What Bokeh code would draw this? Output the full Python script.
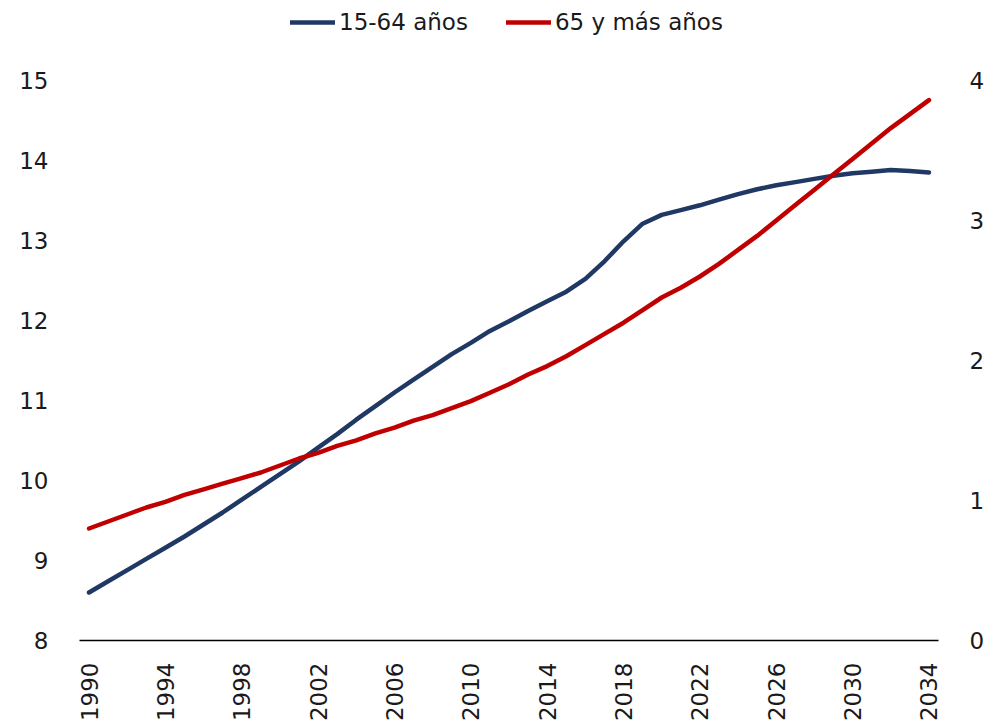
from bokeh.plotting import figure
from bokeh.layouts import column
from bokeh.models import Range1d, LinearAxis, FixedTicker, Legend, LegendItem
from bokeh.embed import file_html
from bokeh.resources import INLINE
import math

# Population by age group, 1990-2034
years = list(range(1990, 2035))

# 15-64 years (left axis)
age_15_64 = [
    8.60, 8.74, 8.88, 9.02, 9.16, 9.30, 9.45, 9.60, 9.76, 9.92,
    10.08, 10.24, 10.41, 10.58, 10.76, 10.93, 11.10, 11.26, 11.42, 11.58,
    11.72, 11.87, 11.99, 12.12, 12.24, 12.36, 12.52, 12.74, 12.99, 13.21,
    13.32, 13.38, 13.44, 13.51, 13.58, 13.64, 13.69, 13.73, 13.77, 13.81,
    13.84, 13.86, 13.88, 13.87, 13.85,
]

# 65 years and over (right axis)
age_65_plus = [
    0.80, 0.85, 0.90, 0.95, 0.99, 1.04, 1.08, 1.12, 1.16, 1.20,
    1.25, 1.30, 1.34, 1.39, 1.43, 1.48, 1.52, 1.57, 1.61, 1.66,
    1.71, 1.77, 1.83, 1.90, 1.96, 2.03, 2.11, 2.19, 2.27, 2.36,
    2.45, 2.52, 2.60, 2.69, 2.79, 2.89, 3.00, 3.11, 3.22, 3.33,
    3.44, 3.55, 3.66, 3.76, 3.86,
]

x_ticks = list(range(1990, 2035, 4))
left_ticks = [8, 9, 10, 11, 12, 13, 14, 15]
right_ticks = [0, 1, 2, 3, 4]

series_labels = ["15-64 años", "65 y más años"]
BLUE = "#203864"
RED = "#C00000"
FONT = "DejaVu Sans"
TEXT = "#1a1a1a"
FS = "23px"
LW = 4.5

# ---- main chart ----
p = figure(
    width=997, height=680,
    x_range=Range1d(1989.5, 2034.5),
    y_range=Range1d(8, 15),
    output_backend="svg", toolbar_location=None,
    min_border_left=79, min_border_right=59,
    min_border_top=36, min_border_bottom=84,
    y_axis_location=None,
)
p.extra_y_ranges = {"right": Range1d(0, 4)}
p.outline_line_color = None
p.xgrid.grid_line_color = None
p.ygrid.grid_line_color = None
p.background_fill_color = "white"
p.border_fill_color = "white"

# bottom axis
xa = p.xaxis[0]
xa.ticker = FixedTicker(ticks=x_ticks)
xa.major_label_orientation = math.pi / 2
xa.major_tick_line_color = None
xa.major_tick_out = 0
xa.major_tick_in = 0
xa.minor_tick_line_color = None
xa.minor_tick_out = 0
xa.axis_line_color = "#000000"
xa.axis_line_width = 1.3
xa.major_label_standoff = 22
xa.major_label_text_font = FONT
xa.major_label_text_font_size = FS
xa.major_label_text_color = TEXT


def style_y(ax, ticks):
    ax.ticker = FixedTicker(ticks=ticks)
    ax.axis_line_color = None
    ax.major_tick_line_color = None
    ax.major_tick_out = 0
    ax.major_tick_in = 0
    ax.minor_tick_line_color = None
    ax.minor_tick_out = 0
    ax.major_label_standoff = 31
    ax.major_label_text_font = FONT
    ax.major_label_text_font_size = FS
    ax.major_label_text_color = TEXT


left_axis = LinearAxis()
style_y(left_axis, left_ticks)
p.add_layout(left_axis, "left")

right_axis = LinearAxis(y_range_name="right")
style_y(right_axis, right_ticks)
p.add_layout(right_axis, "right")

p.line(years, age_15_64, line_color=BLUE, line_width=LW,
       line_cap="round", line_join="round")
p.line(years, age_65_plus, line_color=RED, line_width=LW,
       line_cap="round", line_join="round", y_range_name="right")

# ---- legend strip above the chart ----
lg = figure(
    width=997, height=44,
    x_range=Range1d(0, 1), y_range=Range1d(0, 1),
    output_backend="svg", toolbar_location=None,
    min_border=0, x_axis_location=None, y_axis_location=None,
)
lg.outline_line_color = None
lg.xgrid.grid_line_color = None
lg.ygrid.grid_line_color = None

# key renderers sit outside the visible range; only their legend swatches show
k_blue = lg.line([-2, -1], [-2, -1], line_color=BLUE, line_width=LW,
                 line_cap="round")
k_red = lg.line([-2, -1], [-2, -1], line_color=RED, line_width=LW,
                line_cap="round")

legend = Legend(
    items=[LegendItem(label=series_labels[0], renderers=[k_blue]),
           LegendItem(label=series_labels[1], renderers=[k_red])],
    orientation="horizontal",
    location=(211, 9),
    border_line_color=None,
    background_fill_alpha=0,
    padding=0, margin=0,
    spacing=38,
    glyph_width=45, glyph_height=26,
    label_height=26, label_standoff=4,
    label_text_font=FONT, label_text_font_size=FS,
    label_text_color=TEXT,
)
lg.add_layout(legend, "center")

layout = column(lg, p, spacing=0)

open("out.html", "w").write(file_html(layout, INLINE))
